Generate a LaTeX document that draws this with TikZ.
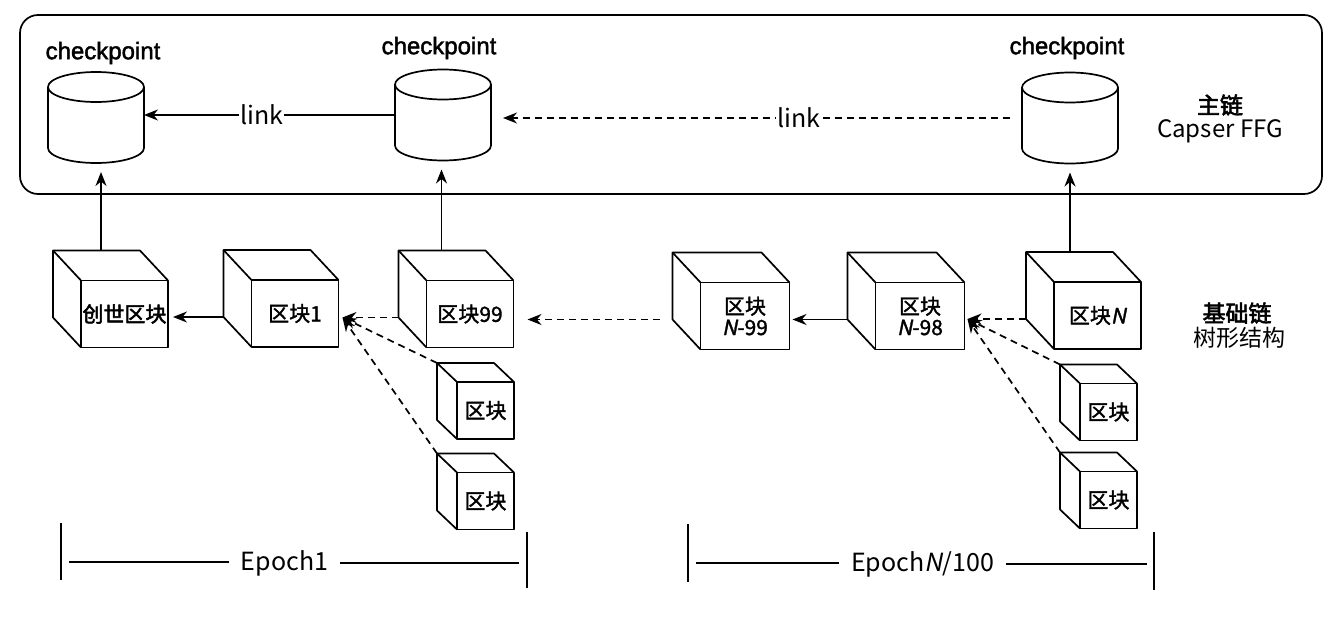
\documentclass[tikz,border=0pt]{standalone}
\usepackage{fontspec}
\usetikzlibrary{calc,arrows.meta}
\newfontfamily\cjk{Noto Sans CJK SC}
\newfontfamily\cjkm[FakeBold=1.5]{Noto Sans CJK SC}
\newfontfamily\cjkb[FakeBold=2.5]{Noto Sans CJK SC}
\newfontfamily\cjki[FakeSlant=0.2]{Noto Sans CJK SC}
\newfontfamily\cjkmi[FakeSlant=0.2,FakeBold=1.5]{Noto Sans CJK SC}
\newfontfamily\arl[FakeBold=1.8]{Liberation Sans}
\newcommand\fsz[1]{\fontsize{#1pt}{#1pt}\selectfont}
% name, x, y, text, w, h, dx, dy
\newcommand\mycube[8]{%
  \node[cubebox, minimum width=#5pt, minimum height=#6pt] (#1) at (#2,#3) {#4};
  \coordinate (#1-tl) at ($(#1.north west)+(-#7,-#8)$);
  \coordinate (#1-bl) at ($(#1.south west)+(-#7,-#8)$);
  \draw[thk] (#1.south west) -- (#1-bl) -- (#1-tl) -- ($(#1.north east)+(-#7,-#8)$) -- (#1.north east);
  \draw[thk] (#1.north west) -- (#1-tl);
}
\newcommand\mycyl[3]{%
  \node[cylbox] (#1) at (#2,#3) {};
  \draw[thk] ($(#1.north west)+(0,15)$) -- ($(#1.south west)+(0,-15)$)
     arc[start angle=180,end angle=360,x radius=48pt,y radius=15pt]
     -- ($(#1.north east)+(0,15)$);
  \draw[thk] ($(#1.north)+(0,15)$) ellipse[x radius=48pt,y radius=15pt];
}
\begin{document}
\begin{tikzpicture}[x=1pt,y=-1pt,
  thk/.style={line width=1.7pt, line join=round},
  arr/.style={thk, -{Stealth[length=14pt,width=11pt]}},
  dsh/.style={dash pattern=on 7pt off 5pt},
  cubebox/.style={draw, thk, inner sep=0pt, outer sep=0pt, font=\cjkm\fsz{21}, align=center},
  cylbox/.style={inner sep=0pt, outer sep=0pt, minimum width=96pt, minimum height=91pt},
  cp/.style={font=\arl\fsz{24}, inner sep=0pt},
  lnk/.style={font=\cjk\fsz{25}, fill=white, inner sep=1pt},
  lbl/.style={inner sep=0pt},
  epoch/.style={font=\cjk\fsz{25}, inner ysep=0pt, inner xsep=12pt},
]
\useasboundingbox (0,0) rectangle (1336,618);

% main chain frame
\node[draw, thk, rounded corners=18pt, minimum width=1302pt, minimum height=179pt, inner sep=0pt] (mainchain) at (671,104.5) {};

% checkpoints
\mycyl{c1}{96}{117.5}
\mycyl{c2}{443}{115}
\mycyl{c3}{1070}{118}
\node[cp] (cpt1) at (103,53) {checkpoint};
\node[cp] (cpt2) at (439,48) {checkpoint};
\node[cp] (cpt3) at (1067,48) {checkpoint};

\draw[arr] (c2.west) -- (c2.west -| c1.east) node[lnk, pos=0.53] (lk1) {link};
\draw[arr, dsh, shorten <=12pt, shorten >=12pt] (c3.west) -- (c3.west -| c2.east) node[lnk, pos=0.42] (lk2) {link};

% right labels
\node[lbl, font=\cjkb\fsz{23}] (zl) at (1220,105) {主链};
\node[lbl, font=\cjk\fsz{24}] (cf) at (1220,131) {Capser FFG};
\node[lbl, font=\cjkb\fsz{23}] (jc) at (1237,313) {基础链};
\node[lbl, font=\cjk\fsz{23}] (sx) at (1239,338) {树形结构};

% blocks
\mycube{g}{124.5}{314}{\cjkb 创世区块}{87}{67}{28}{30}
\mycube{b1}{295}{313.5}{区块1}{87}{67}{28}{30}
\mycube{b99}{470}{314}{区块99}{87}{67}{28}{30}
\mycube{n99}{745}{316}{区块\\{\cjkmi N}-99}{89}{67}{28}{30}
\mycube{n98}{920}{316}{区块\\{\cjkmi N}-98}{89}{67}{28}{30}
\mycube{nN}{1097.5}{315.5}{区块{\cjkmi N}}{87}{67}{28}{30}
\mycube{s1}{485.5}{410.5}{区块}{57}{57}{20}{19}
\mycube{s2}{485.5}{501}{区块}{57}{57}{20}{19}
\mycube{s3}{1108.5}{412}{区块}{57}{57}{20}{19}
\mycube{s4}{1108.5}{500}{区块}{57}{57}{20}{19}

% arrows up to checkpoints
\coordinate (g-up) at ($(g-tl)+(48,0)$);
\coordinate (b99-up) at ($(b99-tl)+(43,0)$);
\coordinate (nN-up) at ($(nN-tl)+(44,0)$);
\draw[arr, shorten >=9pt] (g-up) -- (g-up |- c1.south);
\draw[arr, shorten >=9pt] (b99-up) -- (b99-up |- c2.south);
\draw[arr, shorten >=9pt] (nN-up) -- (nN-up |- c3.south);

% base chain arrows
\draw[arr, shorten >=5pt] (b1-bl) -- (b1-bl -| g.east);
\coordinate (b1-in) at ($(b1.east)+(4,4)$);
\draw[arr, dsh] (b99-bl) -- (b1-in);
\draw[arr, dsh] (s1-tl) -- (b1-in);
\draw[arr, dsh] (s2-tl) -- (b1-in);
\draw[arr, dsh, shorten <=13pt, shorten >=14pt] (n99-bl) -- (n99-bl -| b99.east);
\draw[arr, shorten >=3pt] (n98-bl) -- (n98-bl -| n99.east);
\coordinate (n98-in) at ($(n98.east)+(3,3)$);
\draw[arr, dsh] (nN-bl) -- (n98-in);
\draw[arr, dsh] (s3-tl) -- (n98-in);
\draw[arr, dsh] (s4-tl) -- (n98-in);

% epochs
\node[epoch] (ep1) at (284.5,563) {Epoch1};
\coordinate (e1t1) at (61,523); \coordinate (e1b1) at (61,580);
\coordinate (e1t2) at (527,532); \coordinate (e1b2) at (527,588);
\coordinate (e1l) at (69,562); \coordinate (e1r) at (519,563);
\draw[thk] (e1t1) -- (e1b1);
\draw[thk] (e1t2) -- (e1b2);
\draw[thk] (e1l) -- (e1l -| ep1.west);
\draw[thk] (ep1.east |- e1r) -- (e1r);

\node[epoch] (ep2) at (922.5,564) {Epoch{\cjki N}/100};
\coordinate (e2t1) at (688,524); \coordinate (e2b1) at (688,582);
\coordinate (e2t2) at (1154,532); \coordinate (e2b2) at (1154,590);
\coordinate (e2l) at (696,563); \coordinate (e2r) at (1147,564);
\draw[thk] (e2t1) -- (e2b1);
\draw[thk] (e2t2) -- (e2b2);
\draw[thk] (e2l) -- (e2l -| ep2.west);
\draw[thk] (ep2.east |- e2r) -- (e2r);
\end{tikzpicture}
\end{document}
